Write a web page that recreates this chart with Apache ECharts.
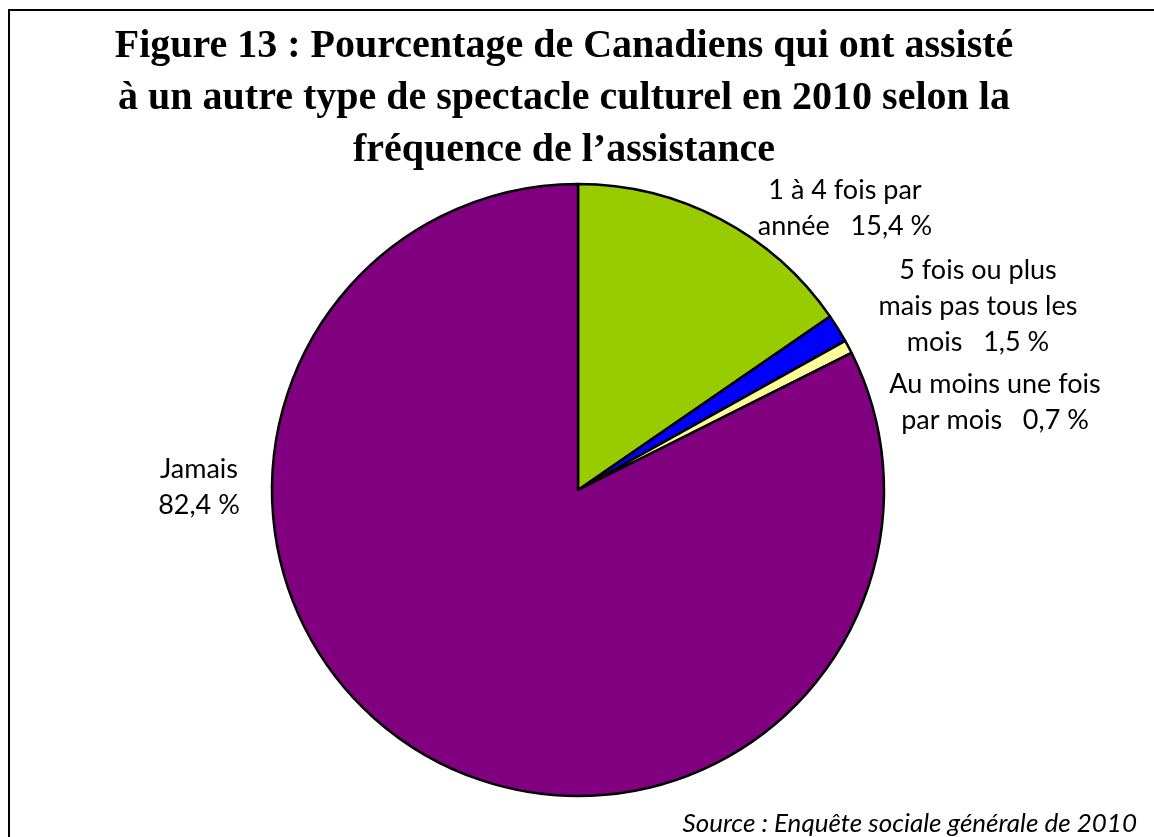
<!DOCTYPE html>
<html>
<head>
<meta charset="utf-8">
<script src="https://cdn.jsdelivr.net/npm/echarts@6/dist/echarts.min.js"></script>
<style>
html,body{margin:0;padding:0;background:#fff;}
#chart{width:1154px;height:837px;}
</style>
</head>
<body>
<div id="chart"></div>
<script>
// Data
const categories = ['1 à 4 fois par année', '5 fois ou plus mais pas tous les mois', 'Au moins une fois par mois', 'Jamais'];
const values = [15.4, 1.5, 0.7, 82.4];
const labelNames = ['1 à 4 fois par\nannée', '5 fois ou plus\nmais pas tous les\nmois', 'Au moins une fois\npar mois', 'Jamais'];
const labelSeparators = ['   ', '   ', '   ', '\n'];
const colors = ['#99CC00', '#0000FF', '#FFFF99', '#800080'];
const titleLines = ['Figure 13 : Pourcentage de Canadiens qui ont assisté', 'à un autre type de spectacle culturel en 2010 selon la', 'fréquence de l\u2019assistance'];
const sourceText = 'Source : Enquête sociale générale de 2010';

// Layout (label anchor points)
const labelAnchors = [[845, 208], [978, 306], [995, 402], [199, 487]];

const fmt = v => v.toFixed(1).replace('.', ',') + ' %';

const chart = echarts.init(document.getElementById('chart'), null, {renderer: 'canvas'});
chart.setOption({
  animation: false,
  backgroundColor: '#fff',
  graphic: [
    {type: 'rect', shape: {x: 9, y: 10, width: 1300, height: 1000}, style: {fill: 'none', stroke: '#000', lineWidth: 2}, z: 100},
    {type: 'text', x: 564, y: 21, style: {text: titleLines.join('\n'), fill: '#000', font: 'bold 40px "Liberation Serif"', lineHeight: 52, align: 'center', verticalAlign: 'top'}},
    {type: 'text', x: 1137, y: 824, style: {text: sourceText, fill: '#000', font: 'italic 26px Lato', align: 'right', verticalAlign: 'middle'}}
  ],
  series: [{
    type: 'pie',
    center: [578, 490],
    radius: 306,
    startAngle: 90,
    clockwise: true,
    avoidLabelOverlap: false,
    data: categories.map((c, i) => ({name: c, value: values[i], itemStyle: {color: colors[i]}})),
    itemStyle: {borderColor: '#000', borderWidth: 2.5},
    label: {
      show: true,
      position: 'outside',
      color: '#000',
      fontFamily: 'Lato',
      fontSize: 27,
      lineHeight: 36,
      align: 'center',
      formatter: p => labelNames[p.dataIndex] + labelSeparators[p.dataIndex] + fmt(values[p.dataIndex])
    },
    labelLine: {show: false},
    labelLayout: p => ({x: labelAnchors[p.dataIndex][0], y: labelAnchors[p.dataIndex][1], align: 'center', verticalAlign: 'middle'}),
    emphasis: {disabled: true}
  }]
});
</script>
</body>
</html>
